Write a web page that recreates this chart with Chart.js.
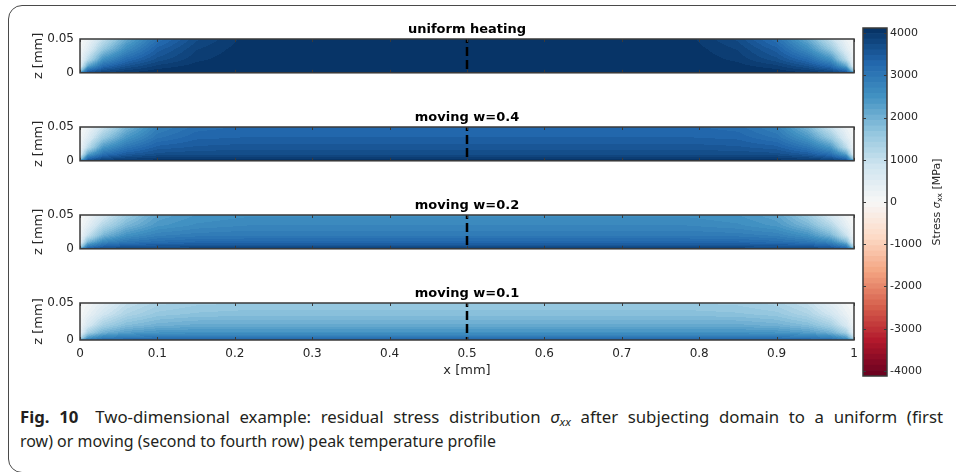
<!DOCTYPE html>
<html>
<head>
<meta charset="utf-8">
<script src="https://cdn.jsdelivr.net/npm/chart.js@4.4.1/dist/chart.umd.min.js"></script>
<style>
  html, body { margin: 0; padding: 0; background: #fff; }
  #fig { position: relative; width: 956px; height: 472px; overflow: hidden; background: #fff; }
  #frame { position: absolute; left: 8px; top: 5px; width: 1000px; height: 468px;
           border: 1.5px solid #4a4a4a; border-radius: 14px; box-sizing: border-box; }
  #fig canvas { position: absolute; }
  .cap { position: absolute; left: 20px; white-space: nowrap; line-height: 20px;
         font-family: "Noto Sans", sans-serif; font-size: 16px;
         color: #231f20; transform-origin: 0 0; }
  .cap b { font-weight: bold; margin-right: 7px; }
  .cap sub { font-size: 70%; vertical-align: -0.25em; line-height: 0; }
</style>
</head>
<body>
<div id="fig">
  <div id="frame"></div>
  <div class="cap" id="cap1" style="top:407px"><b>Fig. 10</b> Two-dimensional example: residual stress distribution <i>σ<sub>xx</sub></i> after subjecting domain to a uniform (first</div>
  <div class="cap" id="cap2" style="top:431px">row) or moving (second to fourth row) peak temperature profile</div>
</div>
<script>
// ---------------- data ----------------
const panelTitles = ['uniform heating', 'moving w=0.4', 'moving w=0.2', 'moving w=0.1'];
const xTicks = [0, 0.1, 0.2, 0.3, 0.4, 0.5, 0.6, 0.7, 0.8, 0.9, 1];
const zTicks = [0, 0.05];
const cbarTicks = [-4000, -3000, -2000, -1000, 0, 1000, 2000, 3000, 4000];
const symmetryX = 0.5;               // dashed centre line, field mirrors about it
const stressRange = [-4120, 4120];   // colour limits [MPa]
const colorLevels = 64;

// sample positions of the stress tables (left half of the strip)
const xNodes = [0, 0.01, 0.03, 0.06, 0.1, 0.15, 0.22, 0.5];
const zNodes = [0, 0.003, 0.01, 0.02, 0.035, 0.05];

// sigma_xx [MPa]; one row per z node (bottom to top), one column per x node
const stressUniform = [
  [3000, 3700, 3900, 4000, 4100, 4120, 4120, 4120],
  [1500, 3300, 3700, 3900, 4050, 4120, 4120, 4120],
  [ 400, 2200, 3200, 3600, 3900, 4050, 4120, 4120],
  [ 150, 1100, 2500, 3200, 3650, 3950, 4120, 4120],
  [  50,  500, 1600, 2600, 3400, 3850, 4100, 4120],
  [   0,  200, 1000, 2100, 3100, 3700, 4080, 4120]
];
const stressW04 = [
  [3000, 3800, 4000, 4050, 4100, 4100, 4100, 4100],
  [1500, 3300, 3700, 3850, 3950, 3950, 3950, 3950],
  [ 400, 2200, 3100, 3450, 3650, 3700, 3700, 3700],
  [ 150, 1100, 2400, 3000, 3400, 3500, 3550, 3550],
  [  50,  500, 1500, 2400, 3050, 3300, 3350, 3350],
  [   0,  200,  900, 1900, 2800, 3150, 3250, 3250]
];
const stressW02 = [
  [2800, 3600, 3800, 3850, 3900, 3900, 3900, 3900],
  [1300, 3000, 3400, 3550, 3600, 3650, 3650, 3650],
  [ 350, 1900, 2700, 3000, 3150, 3250, 3250, 3250],
  [ 120,  900, 1900, 2500, 2800, 2900, 2950, 2950],
  [  40,  400, 1200, 1900, 2400, 2600, 2700, 2700],
  [   0,  150,  700, 1500, 2200, 2450, 2550, 2550]
];
const stressW01 = [
  [2500, 3100, 3350, 3450, 3500, 3500, 3500, 3500],
  [1100, 2400, 2800, 2950, 3000, 3000, 3000, 3000],
  [ 300, 1400, 2000, 2300, 2450, 2500, 2500, 2500],
  [ 100,  700, 1400, 1800, 2000, 2100, 2100, 2100],
  [  30,  300,  800, 1300, 1600, 1700, 1750, 1750],
  [   0,  100,  450, 1000, 1350, 1500, 1550, 1550]
];
const panelTables = [stressUniform, stressW04, stressW02, stressW01];

// diverging red-blue colour map (negative = red, positive = blue)
const rdbu = ['#67001f', '#b2182b', '#d6604d', '#f4a582', '#fddbc7', '#f7f7f7',
              '#d1e5f0', '#92c5de', '#4393c3', '#2166ac', '#053061'];

// ---------------- helpers ----------------
Chart.defaults.font.family = "'DejaVu Sans', sans-serif";
Chart.defaults.color = '#262626';
const INK = '#262626';

function hexToRgb(h) { const n = parseInt(h.slice(1), 16); return [n >> 16 & 255, n >> 8 & 255, n & 255]; }
const rdbuRgb = rdbu.map(hexToRgb);
function rampColor(t) {
  t = Math.min(1, Math.max(0, t));
  const p = t * (rdbuRgb.length - 1);
  const i = Math.min(Math.floor(p), rdbuRgb.length - 2);
  const f = p - i, a = rdbuRgb[i], b = rdbuRgb[i + 1];
  return [0, 1, 2].map(c => Math.round(a[c] + (b[c] - a[c]) * f));
}
const [vMin, vMax] = stressRange;
const levelRgb = Array.from({ length: colorLevels }, (_, k) => rampColor((k + 0.5) / colorLevels));
const levelCss = levelRgb.map(c => `rgb(${c[0]},${c[1]},${c[2]})`);
function levelOf(v) {
  const k = Math.floor((v - vMin) / (vMax - vMin) * colorLevels);
  return Math.min(colorLevels - 1, Math.max(0, k));
}
function locate(nodes, v) {
  let i = 0;
  while (i < nodes.length - 2 && v > nodes[i + 1]) i++;
  const f = (v - nodes[i]) / (nodes[i + 1] - nodes[i]);
  return [i, Math.min(1, Math.max(0, f))];
}
// shaded value of a stress table at (x, z)
function stressAt(table, x, z) {
  const xm = x > symmetryX ? 2 * symmetryX - x : x;
  const [i, fx] = locate(xNodes, xm);
  const [j, fz] = locate(zNodes, z);
  const r0 = table[j], r1 = table[j + 1];
  const a = r0[i] + (r0[i + 1] - r0[i]) * fx;
  const b = r1[i] + (r1[i + 1] - r1[i]) * fx;
  return a + (b - a) * fz;
}

// filled stress field, axes box, inner ticks and panel title
function makeFieldPlugin(table, title) {
  return {
    id: 'stressField',
    beforeDatasetsDraw(chart) {
      const { ctx, chartArea: a, scales: { x, y } } = chart;
      const w = Math.round(a.right - a.left), h = Math.round(a.bottom - a.top);
      const off = document.createElement('canvas');
      off.width = w; off.height = h;
      const octx = off.getContext('2d');
      const img = octx.createImageData(w, h);
      for (let py = 0; py < h; py++) {
        const zv = y.getValueForPixel(a.top + py + 0.5);
        for (let px = 0; px < w; px++) {
          const xv = x.getValueForPixel(a.left + px + 0.5);
          const c = levelRgb[levelOf(stressAt(table, xv, zv))];
          const o = (py * w + px) * 4;
          img.data[o] = c[0]; img.data[o + 1] = c[1]; img.data[o + 2] = c[2]; img.data[o + 3] = 255;
        }
      }
      octx.putImageData(img, 0, 0);
      ctx.drawImage(off, a.left, a.top);
    },
    afterDatasetsDraw(chart) {
      const { ctx, chartArea: a, scales: { x } } = chart;
      ctx.save();
      ctx.strokeStyle = '#3a3a3a';
      ctx.lineWidth = 1.5;
      ctx.strokeRect(a.left, a.top, a.right - a.left, a.bottom - a.top);
      ctx.lineWidth = 1;
      ctx.beginPath();
      xTicks.forEach(v => {
        const px = Math.round(x.getPixelForValue(v)) + 0.5;
        ctx.moveTo(px, a.bottom); ctx.lineTo(px, a.bottom - 3);
        ctx.moveTo(px, a.top); ctx.lineTo(px, a.top + 3);
      });
      ctx.stroke();
      ctx.fillStyle = '#000';
      ctx.font = "bold 13px 'DejaVu Sans'";
      ctx.textAlign = 'center';
      ctx.textBaseline = 'alphabetic';
      ctx.fillText(title, (a.left + a.right) / 2, a.top - 6);
      ctx.restore();
    }
  };
}

// ---------------- panels ----------------
const fig = document.getElementById('fig');
const panelTops = [39, 127, 215, 303];
const PANEL_H = 37, TOP_PAD = 30;

panelTitles.forEach((title, i) => {
  const last = i === panelTitles.length - 1;
  const xAxisH = last ? 38 : 0;
  const bottomPad = last ? 4 : 10;
  const cv = document.createElement('canvas');
  cv.width = 956;
  cv.height = TOP_PAD + PANEL_H + xAxisH + bottomPad;
  cv.style.left = '0px';
  cv.style.top = (panelTops[i] - TOP_PAD) + 'px';
  fig.appendChild(cv);

  new Chart(cv, {
    type: 'scatter',
    data: {
      datasets: [{
        data: [{ x: symmetryX, y: zTicks[1] }, { x: symmetryX, y: zTicks[0] }],
        showLine: true,
        borderColor: '#000',
        borderWidth: 2.5,
        borderDash: [9, 4],
        borderDashOffset: 5,
        pointRadius: 0,
        clip: false
      }]
    },
    options: {
      responsive: false,
      animation: false,
      devicePixelRatio: 1,
      events: [],
      layout: { padding: { left: 0, right: 102, top: TOP_PAD, bottom: bottomPad } },
      plugins: { legend: { display: false }, tooltip: { enabled: false } },
      scales: {
        x: {
          type: 'linear', min: 0, max: 1,
          display: last,
          grid: { display: false, drawTicks: false },
          border: { display: false },
          afterBuildTicks: s => { s.ticks = xTicks.map(v => ({ value: v })); },
          afterFit: s => { s.height = xAxisH; },
          ticks: { autoSkip: false, maxRotation: 0, padding: 7, font: { size: 12 }, color: INK,
                   callback: v => String(v) },
          title: { display: true, text: 'x [mm]', font: { size: 13 }, color: INK,
                   padding: { top: 0, bottom: 0 } }
        },
        y: {
          type: 'linear', min: 0, max: 0.05,
          grid: { display: false, drawTicks: false },
          border: { display: false },
          afterBuildTicks: s => { s.ticks = zTicks.map(v => ({ value: v })); },
          afterFit: s => { s.width = 80; },
          ticks: { padding: 6, font: { size: 12 }, color: INK, callback: v => String(v) },
          title: { display: true, text: 'z [mm]', font: { size: 13 }, color: INK,
                   padding: { top: 31, bottom: 0 } }
        }
      }
    },
    plugins: [makeFieldPlugin(panelTables[i], title)]
  });
});

// ---------------- colour bar ----------------
const cb = document.createElement('canvas');
cb.width = 106; cb.height = 400;
cb.style.left = '850px'; cb.style.top = '0px';
fig.appendChild(cb);

const bandStep = (vMax - vMin) / colorLevels;
const cbarDatasets = levelCss.map((col, k) => ({
  data: [[vMin + k * bandStep, vMin + (k + 1) * bandStep]],
  backgroundColor: col,
  borderWidth: 0,
  grouped: false,
  barPercentage: 1,
  categoryPercentage: 1
}));

const cbarDecor = {
  id: 'cbarDecor',
  afterDatasetsDraw(chart) {
    const { ctx, chartArea: a, scales: { y } } = chart;
    ctx.save();
    ctx.strokeStyle = '#3a3a3a';
    ctx.lineWidth = 1.5;
    ctx.strokeRect(a.left, a.top, a.right - a.left, a.bottom - a.top);
    ctx.lineWidth = 1;
    ctx.beginPath();
    cbarTicks.forEach(v => {
      const py = Math.round(y.getPixelForValue(v)) + 0.5;
      ctx.moveTo(a.right - 3, py); ctx.lineTo(a.right, py);
      ctx.moveTo(a.left, py); ctx.lineTo(a.left + 3, py);
    });
    ctx.stroke();

    // axis label: Stress sigma_xx [MPa], reading bottom to top
    const parts = [
      { t: 'Stress ', f: "11px 'DejaVu Sans'", dy: 0 },
      { t: 'σ', f: "italic 10px 'DejaVu Sans'", dy: 0 },
      { t: 'xx', f: "7.5px 'DejaVu Sans'", dy: 3 },
      { t: ' [MPa]', f: "11px 'DejaVu Sans'", dy: 0 }
    ];
    let total = 0;
    parts.forEach(p => { ctx.font = p.f; p.w = ctx.measureText(p.t).width; total += p.w; });
    ctx.translate(937 - 850, (a.top + a.bottom) / 2);
    ctx.rotate(-Math.PI / 2);
    ctx.fillStyle = INK;
    ctx.textBaseline = 'middle';
    ctx.textAlign = 'left';
    let cx = -total / 2;
    parts.forEach(p => { ctx.font = p.f; ctx.fillText(p.t, cx, p.dy); cx += p.w; });
    ctx.restore();
  }
};

new Chart(cb, {
  type: 'bar',
  data: { labels: ['stress'], datasets: cbarDatasets },
  options: {
    responsive: false,
    animation: false,
    devicePixelRatio: 1,
    events: [],
    layout: { padding: { left: 13, right: 0, top: 28, bottom: 24 } },
    plugins: { legend: { display: false }, tooltip: { enabled: false } },
    scales: {
      x: { display: false, stacked: false },
      y: {
        position: 'right',
        min: vMin, max: vMax,
        grid: { display: false, drawTicks: false },
        border: { display: false },
        afterBuildTicks: s => { s.ticks = cbarTicks.map(v => ({ value: v })); },
        afterFit: s => { s.width = 69; },
        ticks: { padding: 3, font: { size: 11 }, color: INK, callback: v => String(v) }
      }
    }
  },
  plugins: [cbarDecor]
});

// ---------------- caption: narrow setting, first line justified ----------------
const cap1 = document.getElementById('cap1');
const cap2 = document.getElementById('cap2');
cap1.style.wordSpacing = '5px';
const s1 = 923 / cap1.getBoundingClientRect().width;
const s2 = 476 / cap2.getBoundingClientRect().width;
cap1.style.transform = `scaleX(${s1})`;
cap2.style.transform = `scaleX(${s2})`;
</script>
</body>
</html>
